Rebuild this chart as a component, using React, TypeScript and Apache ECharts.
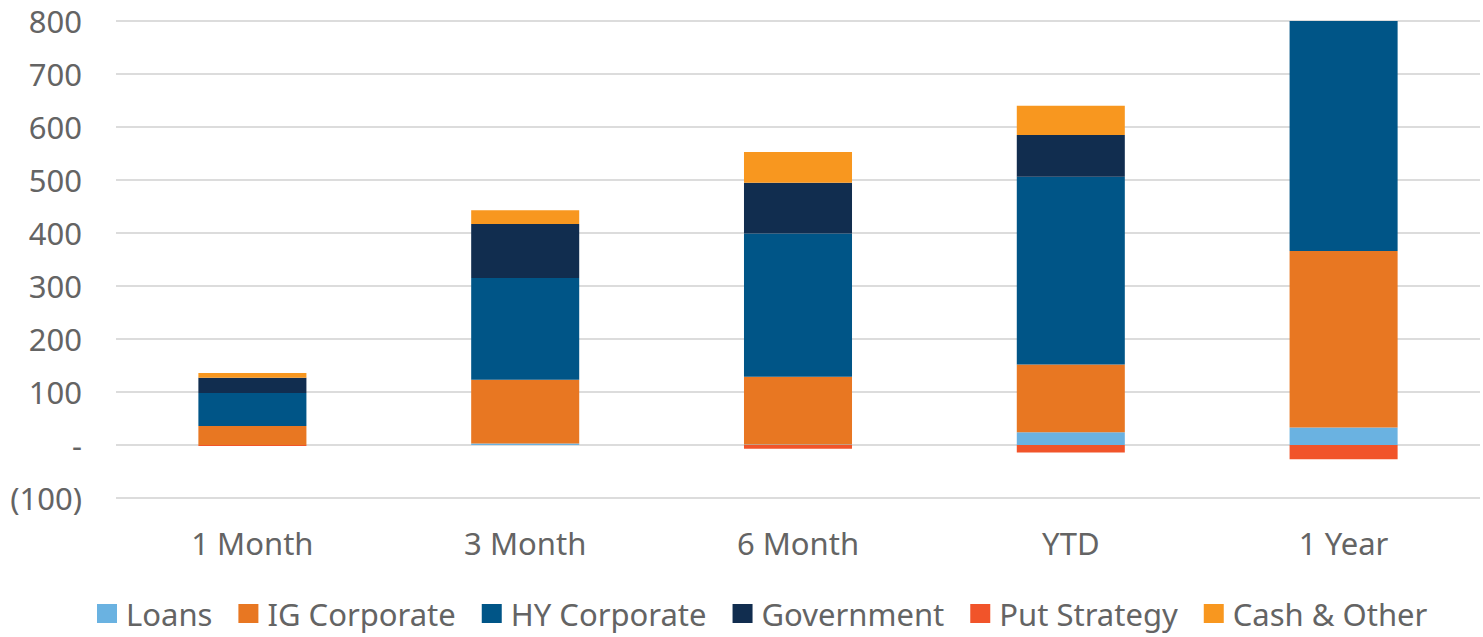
import React, { useEffect, useRef } from "react";
import * as echarts from "echarts";

const categories = ["1 Month", "3 Month", "6 Month", "YTD", "1 Year"];
const loans = [0, 3, 1, 24, 33];
const igCorporate = [36, 120, 128, 128, 333];
const hyCorporate = [62, 192, 270, 354, 434];
const government = [29, 102, 96, 79, 0];
const putStrategy = [-2, 0, -7, -14, -27];
const cashOther = [9, 26, 58, 55, 0];

const seriesDefs = [
  { name: "Loans", data: loans, color: "#6AB2E1" },
  { name: "IG Corporate", data: igCorporate, color: "#E87722" },
  { name: "HY Corporate", data: hyCorporate, color: "#005587" },
  { name: "Government", data: government, color: "#112D4F" },
  { name: "Put Strategy", data: putStrategy, color: "#F1542A" },
  { name: "Cash & Other", data: cashOther, color: "#F8971F" },
];

const FONT = "Noto Sans";
const TEXT = "#646464";

export default function App() {
  const ref = useRef<HTMLDivElement>(null);
  useEffect(() => {
    const chart = echarts.init(ref.current!, null, { renderer: "svg" });
    chart.setOption({
      animation: false,
      grid: { left: 116, right: 3, top: 21, bottom: 139, containLabel: false },
      legend: {
        left: 92,
        top: 593,
        icon: "rect",
        itemWidth: 20,
        itemHeight: 19,
        itemGap: 26,
        textStyle: { fontFamily: FONT, fontSize: 31, color: TEXT, padding: [0, 0, 0, 4] },
        data: seriesDefs.map((s) => s.name),
      },
      xAxis: {
        type: "category",
        data: categories,
        axisLine: { show: false },
        axisTick: { show: false },
        axisLabel: { fontFamily: FONT, fontSize: 31, color: TEXT, margin: 29 },
      },
      yAxis: {
        type: "value",
        min: -100,
        max: 800,
        interval: 100,
        axisLine: { show: false },
        axisTick: { show: false },
        splitLine: { lineStyle: { color: "#DCDCDC", width: 2 } },
        axisLabel: {
          fontFamily: FONT,
          fontSize: 31,
          color: TEXT,
          margin: 34,
          formatter: (v: number) => (v === 0 ? "-" : v < 0 ? `(${Math.abs(v)})` : String(v)),
        },
      },
      series: seriesDefs.map((s) => ({
        name: s.name,
        type: "bar",
        stack: "total",
        barWidth: "39.6%",
        data: s.data,
        itemStyle: { color: s.color },
      })),
    });
    return () => chart.dispose();
  }, []);
  return (
    <div
      ref={ref}
      style={{ position: "absolute", left: 0, top: 0, width: 1483, height: 637, background: "#fff" }}
    />
  );
}
